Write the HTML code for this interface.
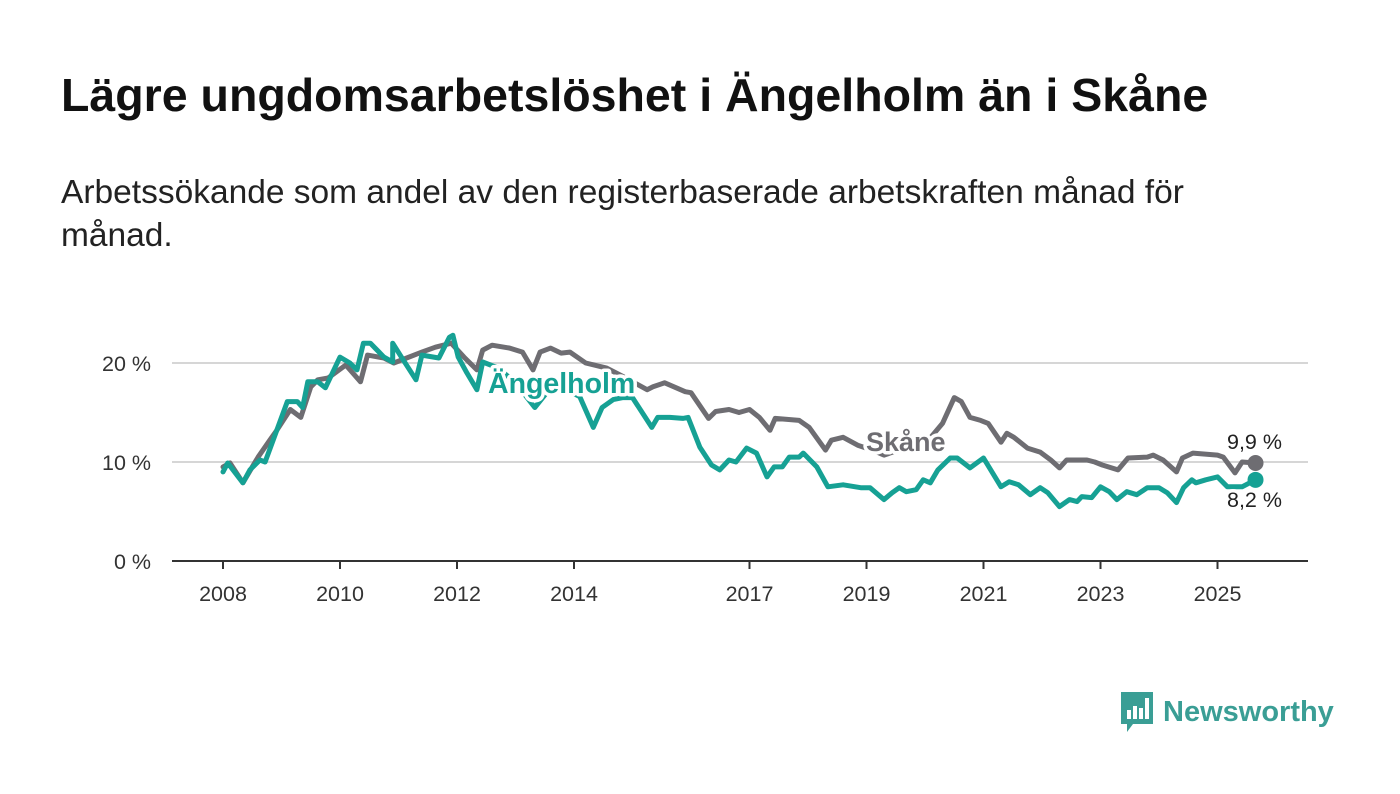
<!DOCTYPE html>
<html><head><meta charset="utf-8"><style>
body{margin:0;width:1400px;height:794px;background:#fff;font-family:"Liberation Sans",sans-serif;overflow:hidden;position:relative}
h1{position:absolute;left:61px;top:68px;margin:0;font-size:46.5px;font-weight:bold;color:#111;letter-spacing:0px;white-space:nowrap}
p.sub{position:absolute;left:61px;top:171px;margin:0;font-size:33.5px;line-height:43px;color:#222;width:1200px}
svg{position:absolute;left:0;top:0}
.logo{position:absolute;left:1119px;top:690px;display:flex;align-items:center}
.logo span{font-size:29px;font-weight:bold;color:#3a9e95;margin-left:8px}
</style></head><body>
<h1>Lägre ungdomsarbetslöshet i Ängelholm än i Skåne</h1>
<p class="sub">Arbetssökande som andel av den registerbaserade arbetskraften månad för månad.</p>
<svg id="chart" width="1400" height="794"></svg>
<div class="logo">
<svg width="36" height="44" viewBox="0 0 36 44" style="position:static"><path d="M2 2h32v32H14l-6 8v-8H2z" fill="#3a9e95"/><rect x="8" y="20" width="4" height="9" fill="#fff"/><rect x="14" y="16" width="4" height="13" fill="#fff"/><rect x="20" y="18" width="4" height="11" fill="#fff"/><rect x="26" y="8" width="4" height="21" fill="#fff"/></svg>
<span>Newsworthy</span></div>
<script>
const tickYears=[2008,2010,2012,2014,2017,2019,2021,2023,2025];
const yTicks=[0,10,20];
const skaneYears=[2008.0,2008.12,2008.34,2008.6,2008.8,2008.92,2009.15,2009.33,2009.5,2009.62,2009.8,2010.1,2010.35,2010.47,2010.75,2010.92,2011.4,2011.63,2011.9,2012.12,2012.34,2012.44,2012.6,2012.9,2013.12,2013.3,2013.42,2013.6,2013.78,2013.93,2014.2,2014.55,2014.85,2015.25,2015.35,2015.55,2015.9,2016.0,2016.3,2016.42,2016.65,2016.82,2017.0,2017.17,2017.35,2017.44,2017.85,2018.02,2018.3,2018.4,2018.6,2018.85,2019.1,2019.3,2019.6,2019.9,2020.1,2020.3,2020.5,2020.62,2020.77,2020.95,2021.08,2021.3,2021.4,2021.52,2021.75,2021.97,2022.15,2022.3,2022.42,2022.77,2022.9,2023.03,2023.3,2023.47,2023.8,2023.9,2024.07,2024.3,2024.4,2024.58,2025.0,2025.1,2025.3,2025.42,2025.65];
const skaneValues=[9.5,9.9,7.9,10.5,12.2,13.2,15.3,14.5,17.6,18.3,18.5,19.8,18.1,20.8,20.5,20.0,21.1,21.6,22.0,20.6,19.3,21.3,21.8,21.5,21.1,19.3,21.1,21.5,21.0,21.1,20.0,19.5,18.6,17.3,17.6,18.0,17.1,17.0,14.4,15.1,15.3,15.0,15.3,14.5,13.2,14.4,14.2,13.5,11.2,12.2,12.5,11.7,11.2,10.7,11.3,11.8,12.5,13.9,16.5,16.1,14.5,14.2,13.9,12.0,12.9,12.5,11.4,11.0,10.2,9.4,10.2,10.2,10.0,9.7,9.2,10.4,10.5,10.7,10.2,9.0,10.4,10.9,10.7,10.5,8.9,10.0,9.9];
const angelYears=[2008.0,2008.08,2008.34,2008.46,2008.63,2008.72,2008.92,2009.1,2009.27,2009.36,2009.45,2009.62,2009.75,2010.0,2010.17,2010.29,2010.4,2010.52,2010.75,2010.9,2010.9,2011.05,2011.3,2011.4,2011.69,2011.87,2011.93,2012.02,2012.17,2012.34,2012.44,2012.7,2013.0,2013.33,2013.6,2013.9,2014.1,2014.33,2014.48,2014.67,2014.84,2015.0,2015.33,2015.43,2015.64,2015.86,2015.95,2016.15,2016.35,2016.49,2016.65,2016.77,2016.95,2017.12,2017.3,2017.42,2017.56,2017.68,2017.85,2017.92,2018.15,2018.34,2018.6,2018.9,2019.06,2019.3,2019.44,2019.56,2019.68,2019.85,2019.97,2020.09,2020.22,2020.43,2020.55,2020.77,2021.0,2021.3,2021.44,2021.6,2021.8,2021.97,2022.1,2022.3,2022.47,2022.6,2022.68,2022.85,2023.0,2023.15,2023.28,2023.45,2023.62,2023.8,2024.0,2024.14,2024.3,2024.42,2024.56,2024.63,2024.8,2025.0,2025.17,2025.42,2025.65];
const angelValues=[9.0,9.9,7.9,9.2,10.2,10.0,13.2,16.1,16.1,15.5,18.1,18.1,17.5,20.6,20.0,19.3,22.0,22.0,20.6,20.1,22.0,20.6,18.3,20.8,20.5,22.6,22.8,20.6,19.0,17.3,20.1,19.5,18.0,15.5,17.5,17.2,16.6,13.5,15.5,16.3,16.5,16.5,13.5,14.5,14.5,14.4,14.5,11.5,9.7,9.2,10.2,10.0,11.4,10.9,8.5,9.5,9.5,10.5,10.5,10.9,9.5,7.5,7.7,7.4,7.4,6.2,6.9,7.4,7.0,7.2,8.2,7.9,9.2,10.4,10.4,9.4,10.4,7.5,8.0,7.7,6.7,7.4,6.9,5.5,6.2,6.0,6.5,6.4,7.5,7.0,6.2,7.0,6.7,7.4,7.4,6.9,5.9,7.4,8.2,7.9,8.2,8.5,7.5,7.5,8.2];
const NS="http://www.w3.org/2000/svg";
const svg=document.getElementById('chart');
const X0=172,X1=1308;
const x=y=>223+(y-2008)*58.5;
const yv=v=>561-v*9.9;
function el(t,a,p){const e=document.createElementNS(NS,t);for(const k in a)e.setAttribute(k,a[k]);(p||svg).appendChild(e);return e;}
yTicks.forEach(t=>{
 if(t>0){const g=el('line',{x1:X0,x2:X1,y1:yv(t),y2:yv(t),stroke:'#d6d6d6','stroke-width':2});
 
 }
 const tx=el('text',{x:151,y:yv(t)+8,'text-anchor':'end','font-size':21.5,fill:'#333'});tx.textContent=t+' %';
 
 
});
const ax=el('line',{x1:X0,x2:X1,y1:561,y2:561,stroke:'#333','stroke-width':2});


tickYears.forEach(t=>{
 el('line',{x1:x(t),x2:x(t),y1:561,y2:569,stroke:'#333','stroke-width':2});
 const tx=el('text',{x:x(t),y:601,'text-anchor':'middle','font-size':21.5,fill:'#333'});tx.textContent=t;
 
 
});
function line(ys,vs,c,name){
 const d=ys.map((y,i)=>(i?'L':'M')+x(y).toFixed(1)+' '+yv(vs[i]).toFixed(1)).join(' ');
 const p=el('path',{d:d,fill:'none',stroke:c,'stroke-width':5,'stroke-linejoin':'round','stroke-linecap':'round'});
 
 
 const n=ys.length-1;
 const dot=el('circle',{cx:x(ys[n]),cy:yv(vs[n]),r:8,fill:c});
 
 
}
line(skaneYears,skaneValues,'#6e6d72','skane-line');
line(angelYears,angelValues,'#16a194','angelholm-line');
function label(tx,xx,yy,c,name,opts){
 const t=el('text',Object.assign({x:xx,y:yy,fill:c,stroke:'#fff','stroke-width':7,'paint-order':'stroke','stroke-linejoin':'round'},opts));
 t.textContent=tx;
 
 
}
label('Ängelholm',488,393,'#16a194','angelholm-label',{'font-size':28.5,'font-weight':'bold'});
label('Skåne',866,451,'#6e6d72','skane-label',{'font-size':27,'font-weight':'bold'});
label('9,9 %',1227,449,'#222','skane-end-value',{'font-size':21.5});
label('8,2 %',1227,507,'#222','angelholm-end-value',{'font-size':21.5});
</script>
</body></html>
